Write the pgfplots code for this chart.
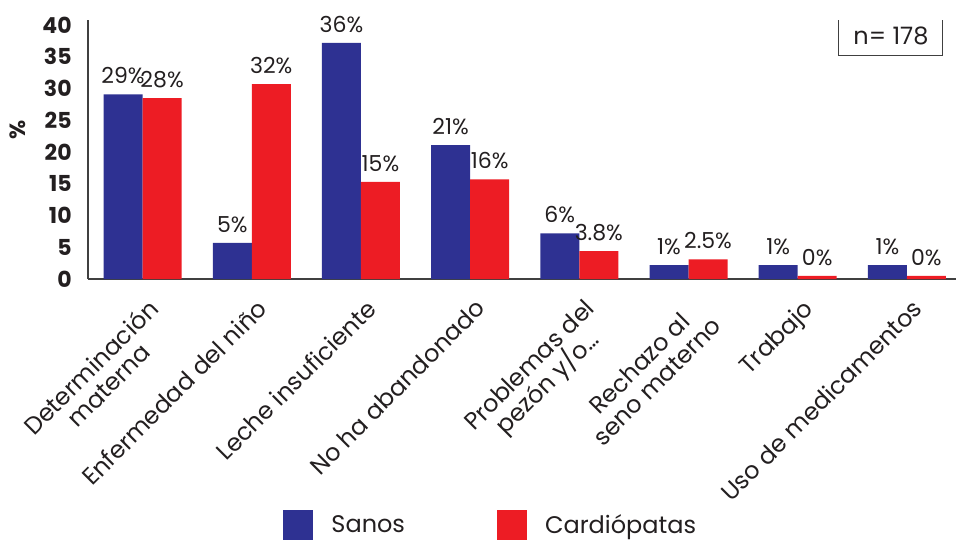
\documentclass[border=0pt]{standalone}
\usepackage{pgfplots}
\pgfplotsset{compat=1.18}
\usepackage{pgfplotstable}
\usepackage{fontspec}
\setmainfont{Poppins}
\definecolor{sanos}{HTML}{2E3192}
\definecolor{card}{HTML}{ED1C24}
\definecolor{txt}{HTML}{231F20}
\pgfplotstableread{
x s c sl cl
0 29.1 28.5 29 28
1 5.7 30.7 5 32
2 37.2 15.3 36 15
3 21.1 15.7 21 16
4 7.2 4.4 6 3.8
5 2.2 3.1 1 2.5
6 2.2 0.5 1 0
7 2.2 0.5 1 0
}\data
\begin{document}
\begin{tikzpicture}
\begin{axis}[
  at={(0,0)}, anchor=south west,
  scale only axis, width=434pt, height=129.5pt,
  ybar=0pt, bar width=19.5pt,
  xmin=-0.5, xmax=7.45, ymin=0, ymax=40.8,
  axis lines=left,
  axis line style={-, line width=0.7pt, color=black!75},
  major tick length=0pt,
  /pgf/number format/assume math mode=true,
  ytick={0,5,...,40},
  yticklabel style={font=\fontsize{11}{12}\selectfont\bfseries, color=txt, inner sep=0pt, anchor=east, xshift=-8pt},
  xtick={0,...,7},
  xticklabels={{Determinación\\materna},{Enfermedad del niño},{Leche insuficiente},{No ha abandonado},{Problemas del\\pezón y/o…},{Rechazo al\\seno materno},{Trabajo},{Uso de medicamentos}},
  xticklabel style={font=\fontsize{12}{12.5}\selectfont, color=txt, align=center, inner sep=0pt, xshift=2pt, yshift=-9pt, rotate=45, anchor=north east},
  ylabel={\%},
  ylabel style={at={(axis description cs:-0.081,0.575)}, anchor=center, font=\fontsize{11}{13}\selectfont\bfseries, color=txt},
  nodes near coords={\pgfplotspointmeta\%},
  point meta=explicit symbolic,
  every node near coord/.append style={font=\fontsize{11}{12}\selectfont, color=txt, inner sep=0pt, anchor=south, yshift=5pt},
  legend columns=2,
  legend style={at={(axis description cs:0.2247,-0.95)}, anchor=west, draw=none, fill=none, font=\fontsize{12}{14}\selectfont, text=txt, inner sep=0pt,
    /tikz/every odd column/.append style={column sep=7pt},
    /tikz/every even column/.append style={column sep=44pt}},
  legend image code/.code={\fill[#1] (0pt,-7.5pt) rectangle (15pt,7.5pt);},
]
\addplot[fill=sanos, draw=none] table[x=x, y=s, meta=sl] {\data};
\addplot[fill=card, draw=none] table[x=x, y=c, meta=cl] {\data};
\legend{Sanos, Cardiópatas}
\node[draw=black!75, line width=0.5pt, minimum width=52pt, minimum height=19pt, font=\fontsize{12}{13}\selectfont, text=txt] at (axis description cs:0.925,0.938) {n= 178};
\end{axis}
\pgfresetboundingbox
\useasboundingbox (-44pt,-130.5pt) rectangle (434pt,139.5pt);
\end{tikzpicture}
\end{document}
